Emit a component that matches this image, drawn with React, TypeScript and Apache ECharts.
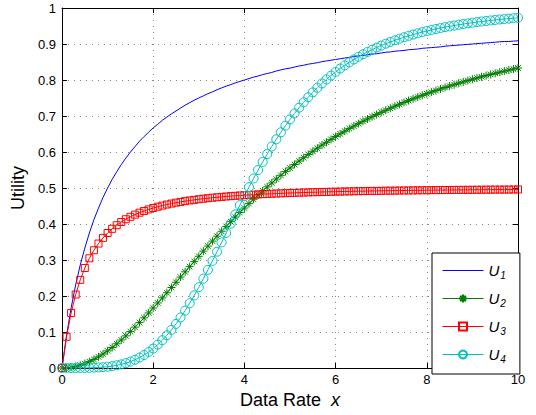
import React, { useEffect, useRef } from "react";
import * as echarts from "echarts";

const xs = [
  0, 0.1, 0.2, 0.3, 0.4, 0.5, 0.6, 0.7, 0.8, 0.9,
  1, 1.1, 1.2, 1.3, 1.4, 1.5, 1.6, 1.7, 1.8, 1.9,
  2, 2.1, 2.2, 2.3, 2.4, 2.5, 2.6, 2.7, 2.8, 2.9,
  3, 3.1, 3.2, 3.3, 3.4, 3.5, 3.6, 3.7, 3.8, 3.9,
  4, 4.1, 4.2, 4.3, 4.4, 4.5, 4.6, 4.7, 4.8, 4.9,
  5, 5.1, 5.2, 5.3, 5.4, 5.5, 5.6, 5.7, 5.8, 5.9,
  6, 6.1, 6.2, 6.3, 6.4, 6.5, 6.6, 6.7, 6.8, 6.9,
  7, 7.1, 7.2, 7.3, 7.4, 7.5, 7.6, 7.7, 7.8, 7.9,
  8, 8.1, 8.2, 8.3, 8.4, 8.5, 8.6, 8.7, 8.8, 8.9,
  9, 9.1, 9.2, 9.3, 9.4, 9.5, 9.6, 9.7, 9.8, 9.9,
  10,
];

const u1 = [
  0, 0.091, 0.167, 0.231, 0.286, 0.333, 0.375, 0.412, 0.444, 0.474,
  0.5, 0.524, 0.545, 0.565, 0.583, 0.6, 0.615, 0.63, 0.643, 0.655,
  0.667, 0.677, 0.688, 0.697, 0.706, 0.714, 0.722, 0.73, 0.737, 0.744,
  0.75, 0.756, 0.762, 0.767, 0.773, 0.778, 0.783, 0.787, 0.792, 0.796,
  0.8, 0.804, 0.808, 0.811, 0.815, 0.818, 0.821, 0.825, 0.828, 0.831,
  0.833, 0.836, 0.839, 0.841, 0.844, 0.846, 0.848, 0.851, 0.853, 0.855,
  0.857, 0.859, 0.861, 0.863, 0.865, 0.867, 0.868, 0.87, 0.872, 0.873,
  0.875, 0.877, 0.878, 0.88, 0.881, 0.882, 0.884, 0.885, 0.886, 0.888,
  0.889, 0.89, 0.891, 0.892, 0.894, 0.895, 0.896, 0.897, 0.898, 0.899,
  0.9, 0.901, 0.902, 0.903, 0.904, 0.905, 0.906, 0.907, 0.907, 0.908,
  0.909,
];

const u2 = [
  0, 0.0005, 0.002, 0.0045, 0.0079, 0.0123, 0.0177, 0.0239, 0.031, 0.0389,
  0.0476, 0.057, 0.0672, 0.0779, 0.0893, 0.1011, 0.1135, 0.1263, 0.1394, 0.1529,
  0.1667, 0.1807, 0.1948, 0.2092, 0.2236, 0.2381, 0.2526, 0.2671, 0.2816, 0.296,
  0.3103, 0.3246, 0.3386, 0.3525, 0.3663, 0.3798, 0.3932, 0.4063, 0.4193, 0.432,
  0.4444, 0.4567, 0.4687, 0.4804, 0.4919, 0.5031, 0.5141, 0.5248, 0.5353, 0.5456,
  0.5556, 0.5653, 0.5748, 0.5841, 0.5932, 0.602, 0.6106, 0.619, 0.6271, 0.6351,
  0.6429, 0.6504, 0.6578, 0.6649, 0.6719, 0.6787, 0.6853, 0.6918, 0.6981, 0.7042,
  0.7101, 0.716, 0.7216, 0.7271, 0.7325, 0.7377, 0.7428, 0.7478, 0.7526, 0.7573,
  0.7619, 0.7664, 0.7707, 0.775, 0.7792, 0.7832, 0.7871, 0.791, 0.7947, 0.7984,
  0.802, 0.8055, 0.8089, 0.8122, 0.8154, 0.8186, 0.8217, 0.8247, 0.8276, 0.8305,
  0.8333,
];

const u3 = [
  0, 0.0868, 0.1528, 0.2041, 0.2449, 0.2778, 0.3047, 0.327, 0.3457, 0.3615,
  0.375, 0.3866, 0.3967, 0.4055, 0.4132, 0.42, 0.426, 0.4314, 0.4362, 0.4405,
  0.4444, 0.448, 0.4512, 0.4541, 0.4567, 0.4592, 0.4614, 0.4635, 0.4654, 0.4671,
  0.4688, 0.4703, 0.4717, 0.473, 0.4742, 0.4753, 0.4764, 0.4774, 0.4783, 0.4792,
  0.48, 0.4808, 0.4815, 0.4822, 0.4829, 0.4835, 0.4841, 0.4846, 0.4851, 0.4856,
  0.4861, 0.4866, 0.487, 0.4874, 0.4878, 0.4882, 0.4885, 0.4889, 0.4892, 0.4895,
  0.4898, 0.4901, 0.4904, 0.4906, 0.4909, 0.4911, 0.4913, 0.4916, 0.4918, 0.492,
  0.4922, 0.4924, 0.4926, 0.4927, 0.4929, 0.4931, 0.4932, 0.4934, 0.4935, 0.4937,
  0.4938, 0.494, 0.4941, 0.4942, 0.4943, 0.4945, 0.4946, 0.4947, 0.4948, 0.4949,
  0.495, 0.4951, 0.4952, 0.4953, 0.4954, 0.4955, 0.4956, 0.4956, 0.4957, 0.4958,
  0.4959,
];

const u4 = [
  0, 0, 0, 0, 0.0001, 0.0002, 0.0005, 0.0009, 0.0015, 0.0023,
  0.0036, 0.0052, 0.0074, 0.0101, 0.0135, 0.0178, 0.0229, 0.029, 0.0361, 0.0445,
  0.0541, 0.065, 0.0772, 0.0909, 0.1059, 0.1224, 0.1403, 0.1595, 0.18, 0.2017,
  0.2244, 0.248, 0.2725, 0.2975, 0.3231, 0.3489, 0.375, 0.401, 0.4268, 0.4524,
  0.4776, 0.5023, 0.5264, 0.5498, 0.5724, 0.5942, 0.6153, 0.6354, 0.6547, 0.6731,
  0.6906, 0.7073, 0.7231, 0.7381, 0.7523, 0.7657, 0.7784, 0.7904, 0.8017, 0.8123,
  0.8223, 0.8318, 0.8407, 0.8491, 0.857, 0.8644, 0.8714, 0.878, 0.8842, 0.8901,
  0.8956, 0.9008, 0.9056, 0.9103, 0.9146, 0.9187, 0.9226, 0.9262, 0.9297, 0.9329,
  0.936, 0.9389, 0.9417, 0.9443, 0.9468, 0.9491, 0.9513, 0.9534, 0.9554, 0.9573,
  0.9591, 0.9608, 0.9624, 0.9639, 0.9654, 0.9668, 0.9681, 0.9693, 0.9705, 0.9717,
  0.9728,
];

const xTicks = { min: 0, max: 10, interval: 2 };
const yTicks = { min: 0, max: 1, interval: 0.1 };
const seriesNames = ["U1", "U2", "U3", "U4"];

const FONT = "Liberation Sans, Arial, Helvetica, sans-serif";
const STAR = "path://M0,-1L0,1M-1,0L1,0M-0.7,-0.7L0.7,0.7M-0.7,0.7L0.7,-0.7";
const C1 = "#0000ff";
const C2 = "#008000";
const C3 = "#ff0000";
const C4 = "#00bfbf";

function pairs(ys: number[]) {
  return xs.map((x, i) => [x, ys[i]]);
}

export default function App() {
  const ref = useRef<HTMLDivElement>(null);
  useEffect(() => {
    document.body.style.margin = "0";
    if (!ref.current) return;
    const chart = echarts.init(ref.current, null, { renderer: "svg" });
    const axisCommon = {
      type: "value" as const,
      axisLine: { show: true, onZero: false, lineStyle: { color: "#000", width: 1 } },
      axisTick: { show: true, inside: true, length: 5, lineStyle: { color: "#000" } },
    };
    const grid = { type: [1, 5], color: "#888", width: 1 };
    const option: any = {
      animation: false,
      backgroundColor: "#fff",
      textStyle: { fontFamily: FONT },
      grid: { left: 62, right: 18, top: 8, bottom: 47, containLabel: false },
      xAxis: [
        {
          ...axisCommon,
          ...xTicks,
          position: "bottom",
          axisLabel: { color: "#000", fontSize: 13, fontFamily: FONT, margin: 5 },
          splitLine: { show: true, lineStyle: grid },
          name: "{a|Data Rate  }{b|x}",
          nameLocation: "middle",
          nameGap: 22,
          nameTextStyle: {
            color: "#000",
            rich: {
              a: { fontSize: 18, fontFamily: FONT, color: "#000" },
              b: { fontSize: 18, fontFamily: FONT, fontStyle: "italic", color: "#000" },
            },
          },
        },
        {
          ...axisCommon,
          ...xTicks,
          position: "top",
          axisLabel: { show: false },
          splitLine: { show: false },
        },
      ],
      yAxis: [
        {
          ...axisCommon,
          ...yTicks,
          position: "left",
          axisLabel: { color: "#000", fontSize: 13, fontFamily: FONT, margin: 6 },
          splitLine: { show: true, lineStyle: grid },
          name: "Utility",
          nameLocation: "middle",
          nameGap: 32,
          nameTextStyle: { color: "#000", fontSize: 18, fontFamily: FONT },
        },
        {
          ...axisCommon,
          ...yTicks,
          position: "right",
          axisLabel: { show: false },
          splitLine: { show: false },
        },
      ],
      legend: {
        orient: "vertical",
        left: 432,
        top: 253,
        padding: [10, 14, 10, 10],
        itemWidth: 41,
        itemHeight: 10,
        itemGap: 11,
        backgroundColor: "#fff",
        borderColor: "#000",
        borderWidth: 1,
        borderRadius: 0,
        lineStyle: { width: 1 },
        data: [
          {
            name: seriesNames[0],
            itemStyle: { color: "transparent", borderColor: "transparent", borderWidth: 0 },
            lineStyle: { color: C1, width: 1 },
          },
          { name: seriesNames[1], lineStyle: { color: C2, width: 1 } },
          { name: seriesNames[2], lineStyle: { color: C3, width: 1 } },
          { name: seriesNames[3], lineStyle: { color: C4, width: 1 } },
        ],
        formatter: (n: string) => `{u|U}{s|${n.slice(1)}}`,
        textStyle: {
          color: "#000",
          rich: {
            u: { fontSize: 15, fontStyle: "italic", fontFamily: FONT, color: "#000" },
            s: { fontSize: 10, fontStyle: "italic", fontFamily: FONT, color: "#000", padding: [9, 0, 0, 1] },
          },
        },
      },
      series: [
        {
          name: "U1",
          type: "line",
          data: pairs(u1),
          symbol: "none",
          lineStyle: { color: C1, width: 1 },
          itemStyle: { color: C1 },
        },
        {
          name: "U2",
          type: "line",
          data: pairs(u2),
          symbol: STAR,
          symbolSize: 8,
          showAllSymbol: true,
          lineStyle: { color: C2, width: 1 },
          itemStyle: { color: "transparent", borderColor: C2, borderWidth: 1 },
        },
        {
          name: "U3",
          type: "line",
          data: pairs(u3),
          symbol: "rect",
          symbolSize: 7,
          showAllSymbol: true,
          lineStyle: { color: C3, width: 1 },
          itemStyle: { color: "transparent", borderColor: C3, borderWidth: 1 },
        },
        {
          name: "U4",
          type: "line",
          data: pairs(u4),
          symbol: "circle",
          symbolSize: 9,
          showAllSymbol: true,
          lineStyle: { color: C4, width: 1 },
          itemStyle: { color: "transparent", borderColor: C4, borderWidth: 1 },
        },
      ],
    };
    chart.setOption(option);
    return () => chart.dispose();
  }, []);
  return (
    <div
      ref={ref}
      style={{ position: "absolute", left: 0, top: 0, width: 536, height: 415 }}
    />
  );
}
